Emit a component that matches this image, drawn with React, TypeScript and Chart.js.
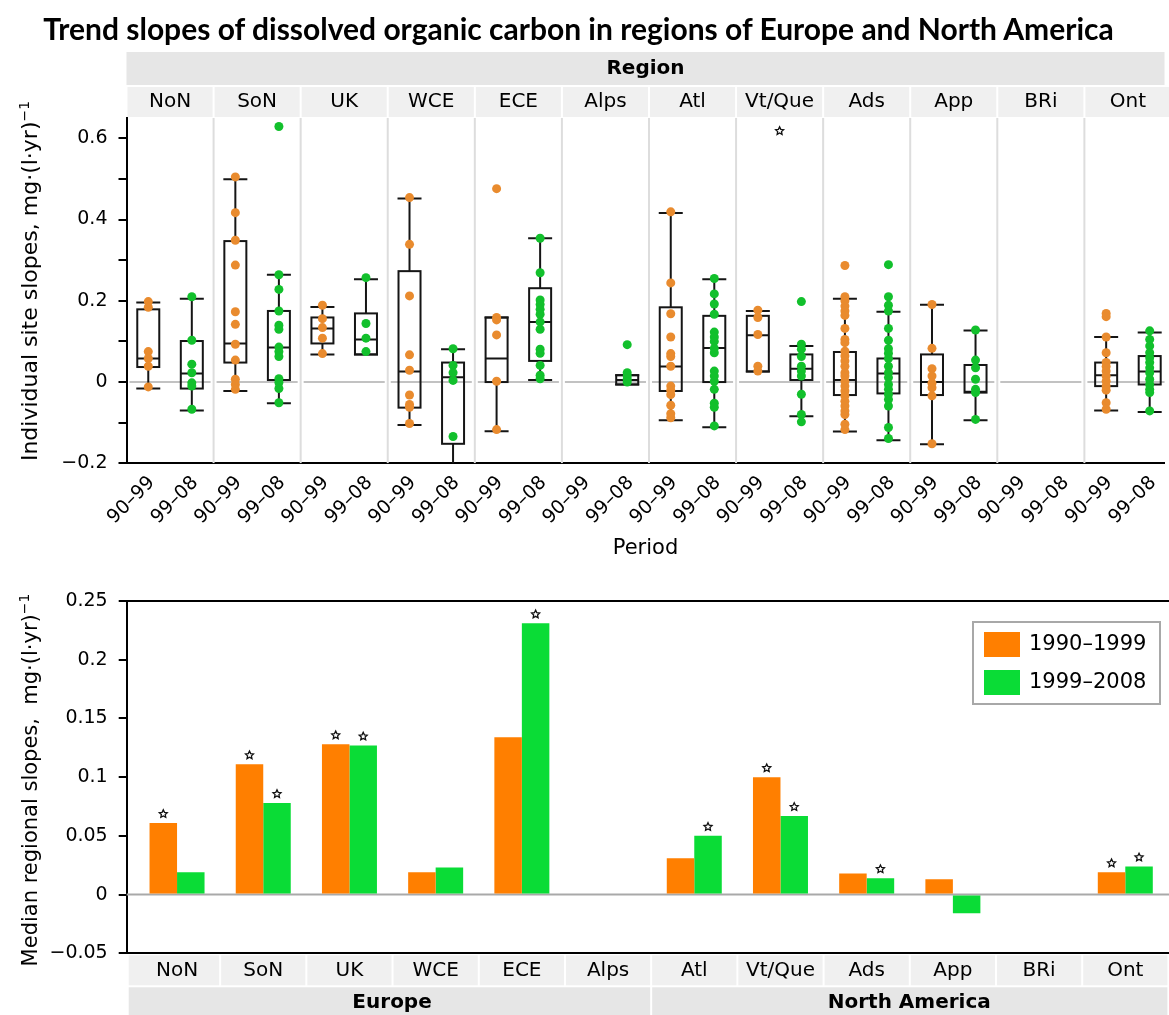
import React, { useEffect, useRef } from 'react';
import { Chart, registerables } from 'chart.js';

Chart.register(...registerables);

// ---------- data ----------
const TITLE = 'Trend slopes of dissolved organic carbon in regions of Europe and North America';
const REGIONS = ['NoN', 'SoN', 'UK', 'WCE', 'ECE', 'Alps', 'Atl', 'Vt/Que', 'Ads', 'App', 'BRi', 'Ont'];
const PERIOD_TICKS = ['90–99', '99–08'];
const SERIES = ['1990–1999', '1999–2008'];
const CONTINENTS = ['Europe', 'North America'];
const CONTINENT_SIZES = [6, 6];

// individual site slopes, mg·(l·yr)^-1, 1990–1999
const sites9099: number[][] = [
  [0.198, 0.184, 0.075, 0.058, 0.039, -0.012],
  [0.505, 0.417, 0.349, 0.288, 0.173, 0.142, 0.093, 0.054, 0.007, -0.006, -0.018],
  [0.189, 0.156, 0.134, 0.108, 0.07],
  [0.454, 0.339, 0.212, 0.067, 0.029, -0.032, -0.055, -0.062, -0.102],
  [0.476, 0.159, 0.153, 0.116, 0.002, -0.117],
  [],
  [0.419, 0.244, 0.168, 0.111, 0.07, 0.063, 0.039, -0.01, -0.02, -0.031, -0.057, -0.078, -0.088],
  [0.177, 0.159, 0.117, 0.039, 0.027],
  [0.287, 0.21, 0.2, 0.187, 0.175, 0.164, 0.132, 0.105, 0.097, 0.076, 0.064, 0.052, 0.039, 0.023, 0.015, 0.002, -0.01, -0.022, -0.034, -0.047, -0.059, -0.071, -0.08, -0.104, -0.117],
  [0.191, 0.083, 0.033, 0.015, -0.003, -0.014, -0.034, -0.152],
  [],
  [0.169, 0.161, 0.111, 0.072, 0.048, 0.038, 0.027, 0.015, 0.002, -0.01, -0.02, -0.051, -0.067],
];

// individual site slopes, 1999–2008
const sites9908: number[][] = [
  [0.21, 0.103, 0.044, 0.023, -0.002, -0.01, -0.067],
  [0.629, 0.264, 0.228, 0.175, 0.14, 0.13, 0.086, 0.075, 0.063, 0.008, -0.001, -0.016, -0.051],
  [0.257, 0.144, 0.108, 0.075],
  [0.082, 0.041, 0.023, 0.004, -0.134],
  [0.354, 0.269, 0.202, 0.191, 0.179, 0.167, 0.148, 0.13, 0.081, 0.071, 0.041, 0.017, 0.008],
  [0.092, 0.023, 0.015, 0.007, 0.0],
  [0.255, 0.217, 0.192, 0.167, 0.123, 0.111, 0.1, 0.083, 0.072, 0.027, 0.015, 0.002, -0.018, -0.052, -0.062, -0.108],
  [0.198, 0.093, 0.081, 0.063, 0.039, 0.027, 0.015, -0.03, -0.08, -0.098],
  [0.289, 0.21, 0.189, 0.175, 0.132, 0.103, 0.082, 0.071, 0.058, 0.039, 0.023, 0.011, -0.006, -0.018, -0.03, -0.043, -0.059, -0.112, -0.139],
  [0.128, 0.054, 0.035, 0.007, -0.018, -0.026, -0.092],
  [],
  [0.126, 0.105, 0.089, 0.072, 0.06, 0.048, 0.035, 0.023, 0.007, -0.006, -0.018, -0.026, -0.071],
];

// box summaries: [lower whisker, Q1, median, Q3, upper whisker]
const box9099: (number[] | null)[] = [
  [-0.016, 0.037, 0.058, 0.179, 0.196],
  [-0.022, 0.048, 0.095, 0.347, 0.499],
  [0.068, 0.095, 0.132, 0.159, 0.185],
  [-0.106, -0.063, 0.026, 0.273, 0.452],
  [-0.121, 0.0, 0.058, 0.159, 0.159],
  null,
  [-0.094, -0.022, 0.038, 0.184, 0.416],
  [0.026, 0.026, 0.115, 0.163, 0.175],
  [-0.122, -0.032, 0.005, 0.074, 0.205],
  [-0.153, -0.032, 0.0, 0.068, 0.19],
  null,
  [-0.07, -0.01, 0.017, 0.048, 0.111],
];
const box9908: (number[] | null)[] = [
  [-0.07, -0.016, 0.021, 0.101, 0.205],
  [-0.052, 0.005, 0.085, 0.175, 0.264],
  [0.068, 0.068, 0.105, 0.169, 0.253],
  [-0.26, -0.152, 0.012, 0.048, 0.081],
  [0.005, 0.052, 0.148, 0.231, 0.354],
  [-0.006, -0.006, 0.005, 0.017, 0.017],
  [-0.111, 0.0, 0.084, 0.163, 0.253],
  [-0.084, 0.005, 0.033, 0.068, 0.089],
  [-0.143, -0.028, 0.021, 0.058, 0.173],
  [-0.094, -0.026, -0.024, 0.042, 0.127],
  null,
  [-0.074, -0.006, 0.026, 0.064, 0.122],
];
// flagged value shown in the Vt/Que panel
const vtQueFlag = 0.618;

// median regional slopes
const median9099: (number | null)[] = [0.061, 0.111, 0.128, 0.019, 0.134, null, 0.031, 0.1, 0.018, 0.013, null, 0.019];
const median9908: (number | null)[] = [0.019, 0.078, 0.127, 0.023, 0.231, null, 0.05, 0.067, 0.014, -0.016, null, 0.024];
const signif9099 = [true, true, true, false, false, false, false, true, false, false, false, true];
const signif9908 = [false, true, true, false, true, false, true, true, true, false, false, true];

const topYTicks = [-0.2, -0.1, 0, 0.1, 0.2, 0.3, 0.4, 0.5, 0.6];
const bottomYTicks = [-0.05, 0, 0.05, 0.1, 0.15, 0.2, 0.25];

// ---------- styling ----------
const FONT = '"DejaVu Sans", sans-serif';
const DOT_ORANGE = '#E98B2E';
const DOT_GREEN = '#12C02C';
const BAR_ORANGE = '#FF7F00';
const BAR_GREEN = '#0ADC36';
const W = 1169;

const fmt = (v: number) => {
  const r = Math.round(v * 100) / 100;
  if (r === 0) return '0';
  return (r < 0 ? '−' : '') + String(Math.abs(r));
};

function drawStar(ctx: CanvasRenderingContext2D, x: number, y: number, r: number) {
  ctx.save();
  ctx.beginPath();
  for (let i = 0; i < 10; i++) {
    const ang = -Math.PI / 2 + (i * Math.PI) / 5;
    const rad = i % 2 === 0 ? r : r * 0.48;
    const px = x + rad * Math.cos(ang);
    const py = y + rad * Math.sin(ang);
    if (i === 0) ctx.moveTo(px, py);
    else ctx.lineTo(px, py);
  }
  ctx.closePath();
  ctx.fillStyle = '#fff';
  ctx.fill();
  ctx.strokeStyle = '#111';
  ctx.lineWidth = 1.3;
  ctx.stroke();
  ctx.restore();
}

function seg(ctx: CanvasRenderingContext2D, x1: number, y1: number, x2: number, y2: number) {
  ctx.beginPath();
  ctx.moveTo(x1, y1);
  ctx.lineTo(x2, y2);
  ctx.stroke();
}

// ---------- top: site slopes by region and period ----------
function SiteSlopes() {
  const ref = useRef<HTMLCanvasElement>(null);
  useEffect(() => {
    const canvas = ref.current!;
    const pos = (r: number, p: number) => r * 2 + p + 0.5;
    const points = (sets: number[][], p: number) =>
      sets.flatMap((vals, r) => vals.map((v) => ({ x: pos(r, p), y: v })));

    const facets = {
      id: 'facets',
      beforeDatasetsDraw(chart: any) {
        const { ctx, chartArea: a, scales } = chart;
        const x = scales.x;
        const y = scales.y;
        ctx.save();
        ctx.beginPath();
        ctx.rect(a.left, a.top, a.right - a.left, a.bottom - a.top);
        ctx.clip();
        ctx.lineWidth = 2;
        ctx.strokeStyle = '#dddddd';
        for (let r = 1; r < REGIONS.length; r++) {
          const px = x.getPixelForValue(r * 2);
          seg(ctx, px, a.top, px, a.bottom);
        }
        const y0 = y.getPixelForValue(0);
        ctx.strokeStyle = '#c2c2c2';
        for (let r = 0; r < REGIONS.length; r++) {
          seg(ctx, x.getPixelForValue(r * 2) + 3, y0, x.getPixelForValue(r * 2 + 2) - 3, y0);
        }
        ctx.strokeStyle = '#151515';
        ctx.lineWidth = 2;
        [box9099, box9908].forEach((boxes, p) =>
          boxes.forEach((b, r) => {
            if (!b) return;
            const cx = x.getPixelForValue(pos(r, p));
            const [lo, q1, md, q3, hi] = b.map((v) => y.getPixelForValue(v));
            seg(ctx, cx, q3, cx, hi);
            seg(ctx, cx, q1, cx, lo);
            seg(ctx, cx - 12, hi, cx + 12, hi);
            seg(ctx, cx - 12, lo, cx + 12, lo);
            ctx.strokeRect(cx - 11, q3, 22, q1 - q3);
            seg(ctx, cx - 11, md, cx + 11, md);
          })
        );
        ctx.restore();
      },
      afterDatasetsDraw(chart: any) {
        const { ctx, scales } = chart;
        const vt = REGIONS.indexOf('Vt/Que');
        drawStar(ctx, scales.x.getPixelForValue(vt * 2 + 1), scales.y.getPixelForValue(vtQueFlag), 4.2);
      },
      afterDraw(chart: any) {
        const { ctx, chartArea: a, scales } = chart;
        const x = scales.x;
        ctx.save();
        // strip: header row
        ctx.fillStyle = '#e6e6e6';
        ctx.fillRect(a.left, 52, a.right - a.left, 33);
        ctx.fillStyle = '#000';
        ctx.font = `bold 20px ${FONT}`;
        ctx.textAlign = 'center';
        ctx.textBaseline = 'middle';
        ctx.fillText('Region', (a.left + a.right) / 2, 69);
        // strip: region row
        REGIONS.forEach((name, r) => {
          const l = x.getPixelForValue(r * 2) + 1;
          const rr = Math.min(x.getPixelForValue(r * 2 + 2) - 1, W);
          ctx.fillStyle = '#f0f0f0';
          ctx.fillRect(l, 87, rr - l, 30);
          ctx.fillStyle = '#000';
          ctx.font = `20px ${FONT}`;
          ctx.fillText(name, x.getPixelForValue(r * 2 + 1), 102);
        });
        // rotated period labels
        ctx.font = `19px ${FONT}`;
        ctx.textAlign = 'right';
        ctx.textBaseline = 'middle';
        for (let r = 0; r < REGIONS.length; r++) {
          for (let p = 0; p < 2; p++) {
            const px = x.getPixelForValue(pos(r, p));
            ctx.save();
            ctx.translate(px + 3.5, a.bottom + 16.5);
            ctx.rotate(-Math.PI / 4);
            ctx.fillText(PERIOD_TICKS[p], 0, 0);
            ctx.restore();
          }
        }
        ctx.font = `21px ${FONT}`;
        ctx.textAlign = 'center';
        ctx.fillText('Period', (a.left + a.right) / 2, 549);
        ctx.restore();
      },
    };

    const chart = new Chart(canvas, {
      type: 'scatter',
      data: {
        datasets: [
          { label: SERIES[0], data: points(sites9099, 0), backgroundColor: DOT_ORANGE, borderWidth: 0, pointRadius: 4.5 },
          { label: SERIES[1], data: points(sites9908, 1), backgroundColor: DOT_GREEN, borderWidth: 0, pointRadius: 4.5 },
        ],
      },
      options: {
        responsive: false,
        animation: false,
        events: [],
        layout: { padding: { top: 118, left: 0, right: 0, bottom: 0 } },
        plugins: { legend: { display: false }, tooltip: { enabled: false } },
        scales: {
          x: {
            type: 'linear',
            offset: false,
            min: 0,
            max: 23.84,
            ticks: { display: false },
            grid: { display: false },
            border: { color: '#000', width: 2 },
            afterFit: (s: any) => {
              s.height = 575 - 463.3;
            },
          },
          y: {
            min: -0.2,
            max: 0.65,
            afterBuildTicks: (s: any) => {
              s.ticks = topYTicks.map((v) => ({ value: v }));
            },
            ticks: {
              callback: (v: any) => (Math.round(Number(v) * 10) % 2 === 0 ? fmt(Number(v)) : ''),
              font: { family: FONT, size: 19 },
              color: '#000',
              padding: 11,
            },
            grid: { drawOnChartArea: false, color: '#000', lineWidth: 2, tickLength: 8 },
            border: { color: '#000', width: 2 },
            afterFit: (s: any) => {
              s.width = 126.5;
            },
          },
        },
      },
      plugins: [facets],
    } as any);
    return () => chart.destroy();
  }, []);
  return <canvas ref={ref} width={W} height={575} style={{ position: 'absolute', left: 0, top: 0 }} />;
}

// ---------- bottom: median regional slopes ----------
function RegionalMedians() {
  const ref = useRef<HTMLCanvasElement>(null);
  useEffect(() => {
    const canvas = ref.current!;
    const series = (vals: (number | null)[]) =>
      vals.map((v, i) => (v === null ? null : { x: i, y: v })).filter((d) => d !== null) as { x: number; y: number }[];
    const flags = [signif9099, signif9908];

    const decor = {
      id: 'decor',
      beforeDatasetsDraw(chart: any) {
        const { ctx, chartArea: a, scales } = chart;
        const y0 = scales.y.getPixelForValue(0);
        ctx.save();
        ctx.strokeStyle = '#a9a9a9';
        ctx.lineWidth = 2;
        seg(ctx, a.left, y0, a.right, y0);
        ctx.strokeStyle = '#000';
        seg(ctx, a.left, a.top, a.right, a.top);
        ctx.restore();
      },
      afterDatasetsDraw(chart: any) {
        const { ctx } = chart;
        chart.data.datasets.forEach((ds: any, d: number) => {
          const meta = chart.getDatasetMeta(d);
          meta.data.forEach((el: any, j: number) => {
            const region = ds.data[j].x;
            if (flags[d][region]) drawStar(ctx, el.x, Math.min(el.y, el.base) - 9, 4.2);
          });
        });
      },
      afterDraw(chart: any) {
        const { ctx, chartArea: a, scales } = chart;
        const x = scales.x;
        ctx.save();
        // legend
        const lx = 973;
        const ly = a.top + 21;
        ctx.fillStyle = '#fff';
        ctx.fillRect(lx, ly, 187, 82);
        ctx.strokeStyle = '#a8a8a8';
        ctx.lineWidth = 2;
        ctx.strokeRect(lx, ly, 187, 82);
        [BAR_ORANGE, BAR_GREEN].forEach((c, i) => {
          ctx.fillStyle = c;
          ctx.fillRect(lx + 11, ly + 10 + i * 38, 36, 25);
          ctx.fillStyle = '#000';
          ctx.font = `21px ${FONT}`;
          ctx.textAlign = 'left';
          ctx.textBaseline = 'middle';
          ctx.fillText(SERIES[i], lx + 56, ly + 23 + i * 38);
        });
        // strip: regions
        const row1 = a.bottom + 2;
        const row2 = a.bottom + 34;
        const edge = (v: number) => Math.max(a.left + 1, Math.min(W, x.getPixelForValue(v)));
        REGIONS.forEach((name, i) => {
          const l = i === 0 ? a.left + 2 : edge(i - 0.5) + 1;
          const r = edge(i + 0.5) - 1;
          ctx.fillStyle = '#f0f0f0';
          ctx.fillRect(l, row1, r - l, 30);
          ctx.fillStyle = '#000';
          ctx.font = `20px ${FONT}`;
          ctx.textAlign = 'center';
          ctx.textBaseline = 'middle';
          ctx.fillText(name, x.getPixelForValue(i), row1 + 15);
        });
        // strip: continents
        let start = 0;
        CONTINENTS.forEach((name, k) => {
          const end = start + CONTINENT_SIZES[k];
          const l = start === 0 ? a.left + 2 : edge(start - 0.5) + 1;
          const r = edge(end - 0.5) - 1;
          ctx.fillStyle = '#e6e6e6';
          ctx.fillRect(l, row2, r - l, 40);
          ctx.fillStyle = '#000';
          ctx.font = `bold 20px ${FONT}`;
          ctx.fillText(name, (edge(start - 0.5) + r) / 2, row2 + 15);
          start = end;
        });
        ctx.restore();
      },
    };

    const chart = new Chart(canvas, {
      type: 'bar',
      data: {
        datasets: [
          { label: SERIES[0], data: series(median9099), backgroundColor: BAR_ORANGE, borderWidth: 0, categoryPercentage: 0.638, barPercentage: 1 },
          { label: SERIES[1], data: series(median9908), backgroundColor: BAR_GREEN, borderWidth: 0, categoryPercentage: 0.638, barPercentage: 1 },
        ],
      },
      options: {
        responsive: false,
        animation: false,
        events: [],
        layout: { padding: { top: 26, left: 0, right: 0, bottom: 0 } },
        plugins: { legend: { display: false }, tooltip: { enabled: false } },
        scales: {
          x: {
            type: 'linear',
            offset: false,
            min: -0.584,
            max: 11.507,
            afterBuildTicks: (s: any) => {
              s.ticks = REGIONS.map((_, i) => ({ value: i }));
            },
            ticks: { display: false },
            grid: { display: false, offset: false },
            border: { color: '#000', width: 2 },
            afterFit: (s: any) => {
              s.height = 440 - 378.3;
            },
          },
          y: {
            min: -0.05,
            max: 0.25,
            afterBuildTicks: (s: any) => {
              s.ticks = bottomYTicks.map((v) => ({ value: v }));
            },
            ticks: {
              callback: (v: any) => fmt(Number(v)),
              font: { family: FONT, size: 19 },
              color: '#000',
              padding: 11,
            },
            grid: { drawOnChartArea: false, color: '#000', lineWidth: 2, tickLength: 8 },
            border: { color: '#000', width: 2 },
            afterFit: (s: any) => {
              s.width = 126.7;
            },
          },
        },
      },
      plugins: [decor],
    } as any);
    return () => chart.destroy();
  }, []);
  return <canvas ref={ref} width={W} height={440} style={{ position: 'absolute', left: 0, top: 575 }} />;
}

const rotated = (cx: number, cy: number, size: number): React.CSSProperties => ({
  position: 'absolute',
  left: cx,
  top: cy,
  transform: 'translate(-50%, -50%) rotate(-90deg)',
  whiteSpace: 'nowrap',
  font: `${size}px ${FONT}`,
  lineHeight: 1,
  color: '#000',
});

const supStyle: React.CSSProperties = { fontSize: 14, verticalAlign: 'super', lineHeight: 0 };

export default function App() {
  return (
    <div style={{ position: 'absolute', left: 0, top: 0, width: W, height: 1015, background: '#fff', overflow: 'hidden' }}>
      <SiteSlopes />
      <RegionalMedians />
      <div
        style={{
          position: 'absolute',
          left: 578.5,
          top: 11,
          transform: 'translateX(-50%)',
          whiteSpace: 'nowrap',
          font: 'bold 30px Lato, "Open Sans", sans-serif',
          lineHeight: '34px',
          color: '#000',
        }}
      >
        {TITLE}
      </div>
      <div style={rotated(30, 281, 22)}>
        Individual site slopes, mg·(l·yr)<sup style={supStyle}>−1</sup>
      </div>
      <div style={rotated(30, 780, 21)}>
        Median regional slopes,&nbsp; mg·(l·yr)<sup style={supStyle}>−1</sup>
      </div>
    </div>
  );
}
